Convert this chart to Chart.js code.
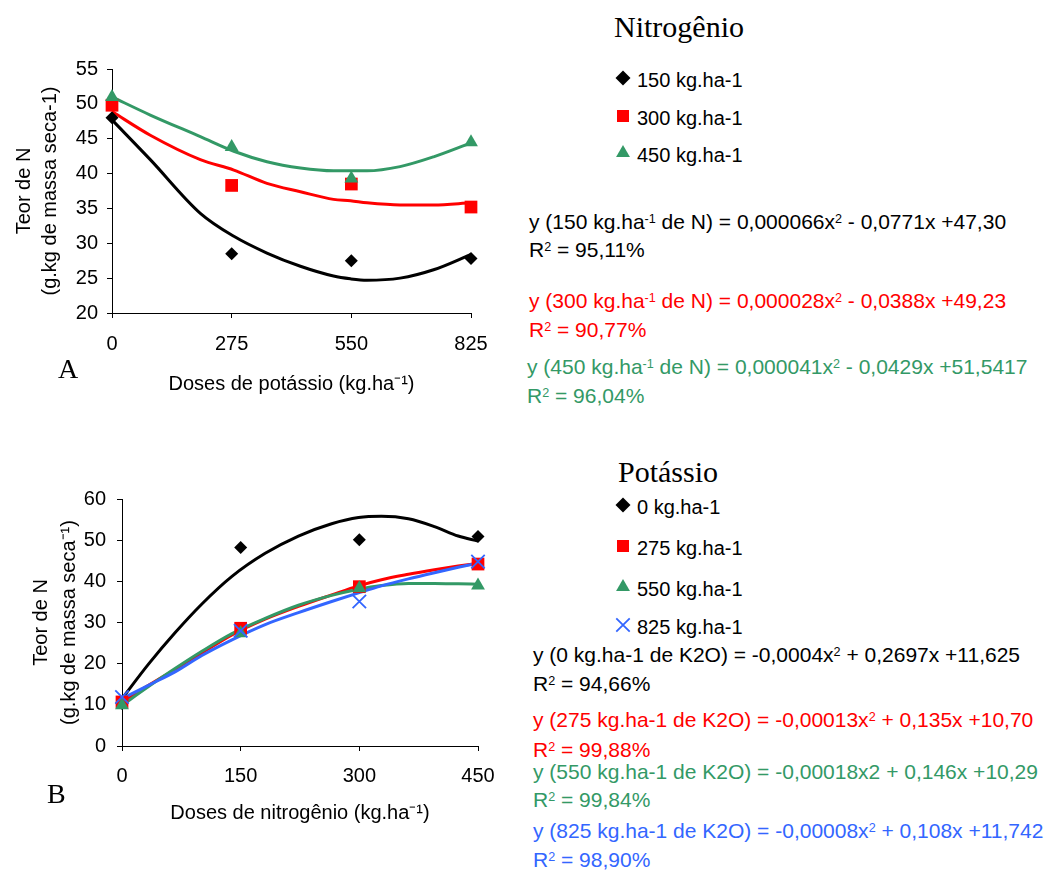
<!DOCTYPE html>
<html lang="pt">
<head>
<meta charset="utf-8">
<title>Teor de N</title>
<script src="https://cdn.jsdelivr.net/npm/chart.js"></script>
<style>
  html, body { margin: 0; padding: 0; background: #fff; }
  body { width: 1047px; height: 871px; position: relative; overflow: hidden;
         font-family: "Liberation Sans", Arial, sans-serif; color: #000; }
  .panel { position: absolute; left: 0; }
  .txt { position: absolute; font-size: 21px; line-height: 20px; white-space: nowrap; }
  .serif { position: absolute; font-family: "Liberation Serif", "Times New Roman", serif; white-space: nowrap; }
  .big { font-size: 30px; line-height: 30px; }
  .letter { font-size: 28px; line-height: 28px; }
  sup { font-size: 0.6em; line-height: 0; vertical-align: 0.5em; }
  .lg { position: absolute; left: 612px; height: 22px; }
  .lg canvas { position: absolute; left: 0; top: 0; }
  .lg span { position: absolute; left: 25px; top: 0; font-size: 20px; line-height: 20px; white-space: nowrap; }
</style>
</head>
<body>

<div class="panel" style="top:0"><canvas id="chartA" width="520" height="420"></canvas></div>
<div class="panel" style="top:430px"><canvas id="chartB" width="520" height="441"></canvas></div>

<div class="serif letter" style="left:58px; top:355px">A</div>
<div class="serif letter" style="left:47px; top:780px">B</div>

<div class="serif big" style="left:614px; top:12px">Nitrogênio</div>
<div id="legendA"></div>

<div class="txt" style="left:529px; top:212px">y (150 kg.ha<sup>-1</sup> de N) = 0,000066x<sup>2</sup> - 0,0771x +47,30</div>
<div class="txt" style="left:529px; top:240px">R<sup>2</sup> = 95,11%</div>
<div class="txt" style="left:529px; top:291px; color:#ff0000">y (300 kg.ha<sup>-1</sup> de N) = 0,000028x<sup>2</sup> - 0,0388x +49,23</div>
<div class="txt" style="left:529px; top:320px; color:#ff0000">R<sup>2</sup> = 90,77%</div>
<div class="txt" style="left:527px; top:357px; color:#339966">y (450 kg.ha<sup>-1</sup> de N) = 0,000041x<sup>2</sup> - 0,0429x +51,5417</div>
<div class="txt" style="left:527px; top:386px; color:#339966">R<sup>2</sup> = 96,04%</div>

<div class="serif big" style="left:618px; top:457px">Potássio</div>
<div id="legendB"></div>

<div class="txt" style="left:533px; top:645px">y (0 kg.ha-1 de K2O) = -0,0004x<sup>2</sup> + 0,2697x +11,625</div>
<div class="txt" style="left:533px; top:674px">R<sup>2</sup> = 94,66%</div>
<div class="txt" style="left:533px; top:710px; color:#ff0000">y (275 kg.ha-1 de K2O) = -0,00013x<sup>2</sup> + 0,135x +10,70</div>
<div class="txt" style="left:533px; top:740px; color:#ff0000">R<sup>2</sup> = 99,88%</div>
<div class="txt" style="left:533px; top:762px; color:#339966">y (550 kg.ha-1 de K2O) = -0,00018x2 + 0,146x +10,29</div>
<div class="txt" style="left:533px; top:790px; color:#339966">R<sup>2</sup> = 99,84%</div>
<div class="txt" style="left:533px; top:821px; color:#3366ff">y (825 kg.ha-1 de K2O) = -0,00008x<sup>2</sup> + 0,108x +11,742</div>
<div class="txt" style="left:533px; top:850px; color:#3366ff">R<sup>2</sup> = 98,90%</div>

<script>
// ---- panel A: doses de potássio, curves per dose of N ----
const doseK = [0, 275, 550, 825];
const nLabels = ['150 kg.ha-1', '300 kg.ha-1', '450 kg.ha-1'];
const teorN150 = [48.0, 28.5, 27.5, 27.8];
const teorN300 = [49.8, 38.3, 38.5, 35.2];
const teorN450 = [51.0, 43.8, 39.3, 44.5];

// trend curves
const fitXA = [0, 88, 203, 280, 356, 433, 509, 548, 586, 662, 739, 825];
const fitN150 = [47.7, 42.0, 34.3, 31.0, 28.6, 26.7, 25.3, 24.9, 24.7, 25.0, 26.2, 28.4];
const fitN300 = [48.9, 45.5, 42.0, 40.5, 38.6, 37.4, 36.3, 36.1, 35.8, 35.5, 35.5, 35.8];
const fitN450 = [51.0, 48.4, 45.3, 43.2, 41.7, 40.8, 40.4, 40.4, 40.4, 41.0, 42.4, 44.4];

const ticksXA = [0, 275, 550, 825];

// ---- panel B: doses de nitrogênio, curves per dose of K ----
const doseN = [0, 150, 300, 450];
const kLabels = ['0 kg.ha-1', '275 kg.ha-1', '550 kg.ha-1', '825 kg.ha-1'];
const teorK0 = [10.3, 48.2, 50.1, 50.9];
const teorK275 = [10.7, 28.6, 38.7, 44.2];
const teorK550 = [9.9, 27.4, 38.3, 39.0];
const teorK825 = [11.9, 28.0, 35.1, 44.8];

const fitXB = [0, 34, 67, 101, 139, 181, 223, 265, 299, 328, 362, 395, 425, 450];
const fitK0 = [11.5, 20.0, 27.5, 34.5, 41.2, 46.8, 51.0, 54.0, 55.5, 55.8, 55.2, 53.3, 51.0, 49.8];
const fitK275 = [10.7, 14.8, 18.6, 22.6, 27.0, 30.8, 33.9, 36.7, 38.9, 40.4, 41.7, 42.8, 43.7, 44.4];
const fitK550 = [9.9, 14.5, 18.8, 23.0, 27.3, 31.0, 34.2, 36.6, 38.1, 39.0, 39.5, 39.5, 39.4, 39.3];
const fitK825 = [11.5, 14.8, 18.0, 22.0, 25.8, 29.5, 32.4, 35.1, 37.2, 38.9, 40.6, 42.1, 43.4, 44.4];

const ticksXB = [0, 150, 300, 450];

const COLORS = {
  black: '#000000',
  red: '#ff0000',
  green: '#339966',
  blue: '#3366ff'
};

const MARKERS = [
  { pointStyle: 'rectRot', radius: 6.5, borderWidth: 0 },
  { pointStyle: 'rect', radius: 9, borderWidth: 0 },
  { pointStyle: 'triangle', radius: 8, borderWidth: 0 },
  { pointStyle: 'crossRot', radius: 9.5, borderWidth: 1.8 }
];
const SERIES_COLORS = [COLORS.black, COLORS.red, COLORS.green, COLORS.blue];

const FONT = { family: '"Liberation Sans", Arial, sans-serif', size: 20 };

function pairs(xs, ys) {
  return xs.map((x, i) => ({ x: x, y: ys[i] }));
}

function buildDatasets(xs, series, fitX, fits, labels) {
  const sets = [];
  series.forEach((ys, i) => {
    const c = SERIES_COLORS[i];
    const m = MARKERS[i];
    sets.push({
      type: 'scatter',
      label: labels[i],
      data: pairs(xs, ys),
      pointStyle: m.pointStyle,
      pointRadius: m.radius,
      pointHoverRadius: m.radius,
      pointBackgroundColor: c,
      pointBorderColor: c,
      pointBorderWidth: m.borderWidth,
      showLine: false,
      clip: false,
      order: 10 - i
    });
    sets.push({
      type: 'line',
      label: labels[i] + ' (ajuste)',
      data: pairs(fitX, fits[i]),
      borderColor: c,
      borderWidth: 3,
      pointRadius: 0,
      cubicInterpolationMode: 'monotone',
      fill: false,
      clip: false,
      order: 20 - i
    });
  });
  return sets;
}

function axisOptions(cfg) {
  return {
    x: {
      type: 'linear',
      min: cfg.xMin, max: cfg.xMax,
      afterBuildTicks: s => { s.ticks = cfg.xTicks.map(v => ({ value: v })); },
      afterFit: s => { s.height = cfg.xHeight; },
      ticks: { color: '#000', font: FONT, padding: cfg.xTickPad, maxRotation: 0 },
      grid: { drawOnChartArea: false, tickLength: 5, color: '#000' },
      border: { color: '#000', width: 1 },
      title: {
        display: true,
        text: cfg.xTitle,
        color: '#000',
        font: FONT,
        padding: { top: 0, bottom: cfg.xTitlePad }
      }
    },
    y: {
      min: cfg.yMin, max: cfg.yMax,
      afterFit: s => { s.width = cfg.yWidth; },
      ticks: { stepSize: cfg.yStep, color: '#000', font: FONT, padding: cfg.yTickPad },
      grid: { drawOnChartArea: false, tickLength: 5, color: '#000' },
      border: { color: '#000', width: 1 },
      title: {
        display: true,
        text: cfg.yTitle,
        color: '#000',
        font: Object.assign({ lineHeight: cfg.yTitleLH }, FONT),
        padding: { top: cfg.yTitlePad, bottom: 0 }
      }
    }
  };
}

function renderPanel(id, datasets, cfg) {
  const ctx = document.getElementById(id);
  return new Chart(ctx, {
    type: 'scatter',
    data: { datasets: datasets },
    options: {
      responsive: false,
      animation: false,
      layout: { padding: cfg.padding },
      plugins: { legend: { display: false }, tooltip: { enabled: false } },
      scales: axisOptions(cfg)
    }
  });
}

function drawLegend(containerId, labels, rowTops) {
  const box = document.getElementById(containerId);
  labels.forEach((label, i) => {
    const row = document.createElement('div');
    row.className = 'lg';
    row.style.top = rowTops[i] + 'px';
    const cv = document.createElement('canvas');
    cv.width = 22; cv.height = 22;
    const g = cv.getContext('2d');
    const m = MARKERS[i];
    g.fillStyle = SERIES_COLORS[i];
    g.strokeStyle = SERIES_COLORS[i];
    g.lineWidth = m.borderWidth;
    const r = m.pointStyle === 'rectRot' ? 7.5 : m.pointStyle === 'rect' ? 8.5 : m.radius;
    if (Chart.helpers && Chart.helpers.drawPoint) {
      Chart.helpers.drawPoint(g, { pointStyle: m.pointStyle, radius: r, borderWidth: m.borderWidth, rotation: 0 }, 11, 11);
    }
    row.appendChild(cv);
    const sp = document.createElement('span');
    sp.textContent = label;
    sp.style.top = '3px';
    row.appendChild(sp);
    box.appendChild(row);
  });
}

renderPanel('chartA',
  buildDatasets(doseK, [teorN150, teorN300, teorN450], fitXA, [fitN150, fitN300, fitN450], nLabels),
  {
    padding: { top: 69, right: 49, bottom: 0, left: 0 },
    xMin: 0, xMax: 825, xTicks: ticksXA, xHeight: 107, xTickPad: 14,
    xTitle: 'Doses de potássio (kg.ha\u207B\u00B9)', xTitlePad: 24,
    yMin: 20, yMax: 55, yStep: 5, yWidth: 112, yTickPad: 9,
    yTitle: ['Teor de N', '(g.kg de massa seca-1)'], yTitleLH: 1.3, yTitlePad: 11
  });

renderPanel('chartB',
  buildDatasets(doseN, [teorK0, teorK275, teorK550, teorK825], fitXB, [fitK0, fitK275, fitK550, fitK825], kLabels),
  {
    padding: { top: 69, right: 42, bottom: 0, left: 0 },
    xMin: 0, xMax: 450, xTicks: ticksXB, xHeight: 125, xTickPad: 13,
    xTitle: 'Doses de nitrogênio (kg.ha\u207B\u00B9)', xTitlePad: 46,
    yMin: 0, yMax: 60, yStep: 10, yWidth: 122, yTickPad: 11,
    yTitle: ['Teor de N', '(g.kg de massa seca\u207B\u00B9)'], yTitleLH: 1.4, yTitlePad: 27
  });

drawLegend('legendA', nLabels, [67, 105, 142]);
drawLegend('legendB', kLabels, [494, 535, 576, 614]);
</script>
</body>
</html>
